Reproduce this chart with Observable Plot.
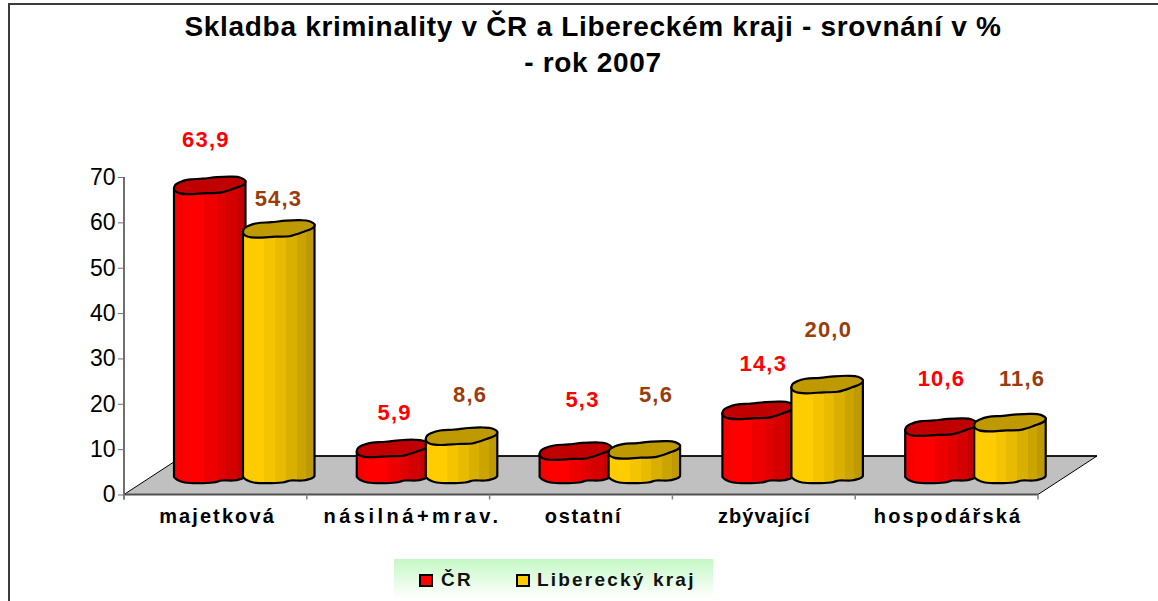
<!DOCTYPE html>
<html><head><meta charset="utf-8">
<script src="https://cdn.jsdelivr.net/npm/d3@7"></script>
<script src="https://cdn.jsdelivr.net/npm/@observablehq/plot@0.6"></script>
<style>
html,body{margin:0;padding:0;background:#fff;overflow:hidden}
#page{position:relative;width:1158px;height:601px;font-family:"Liberation Sans",Arial,sans-serif;overflow:hidden}
#bl{position:absolute;left:8px;top:3px;width:2px;height:598px;background:#3c3c3c}
#bt{position:absolute;left:8px;top:3px;right:0;height:2px;background:#3c3c3c}
#title{position:absolute;left:0;top:0;width:1186px;height:100px;text-align:center;font-weight:bold;font-size:28px;letter-spacing:.7px;line-height:36px;padding-top:9px;box-sizing:border-box;color:#000}
#chart{position:absolute;left:0;top:100px}
#legend{position:absolute;left:394px;top:559px;width:319px;height:39px;background:linear-gradient(#c4f8c4,#ffffff);font-weight:bold;font-size:19px;letter-spacing:2.2px;color:#111}
#legend span{position:absolute;top:11px;line-height:20px;white-space:nowrap}
#legend i{position:absolute;top:15px;width:10px;height:9px;border:2px solid #000}
g[aria-label="text"] text{letter-spacing:1.2px}
</style></head>
<body><div id="page">
<div id="bl"></div><div id="bt"></div>
<div id="title">Skladba kriminality v ČR a Libereckém kraji - srovnání v %<br>- rok 2007</div>
<div id="chart"></div>
<div id="legend">
<i style="left:25px;background:#ff0000"></i><span style="left:47px">ČR</span>
<i style="left:122px;background:#ffcc00"></i><span style="left:143px">Liberecký kraj</span>
</div>
</div>
<script>
const categories = ["majetková","násilná+mrav.","ostatní","zbývající","hospodářská"];
const crValues = [63.9,5.9,5.3,14.3,10.6];
const krajValues = [54.3,8.6,5.6,20.0,11.6];
const yTicks = [0,10,20,30,40,50,60,70];

// hand placement of the data labels (as in the original), relative to category centre / value
const crLabelDx = [-10,-4,1,-1,-5.6];
const crLabelDy = [-65.6,-55,-71.5,-66.6,-68.4];
const krajLabelDx = [62.6,71.5,74.5,64,75];
const krajLabelDy = [-50,-61.5,-75,-74.8,-63.9];
// hand placement and tracking of the category labels
const catLabelDx = [1.6,13.8,2,0,1];
const catLabelTracking = [2.1,3.5,1.7,1,2.2];

const barW = 71.5, baseLift = 18.5;
const topShape = [[0,2],[.02,-1.5],[.08,-4],[.2,-6.5],[.4,-7.5],[.6,-9],[.8,-9.5],[.93,-8.5],[1,-5],[.98,-2],[.85,2],[.65,6.5],[.45,7],[.2,8],[.07,7],[.01,4.5]];
const baseShape = [[0,1],[.05,4],[.15,6.5],[.55,6.5],[.67,4.5],[.83,4.5],[.97,2],[1,0]];

function cylinder(offset, gradId, topFill){
  return function(index, scales, values, dims, ctx){
    const g = d3.select(ctx.document.createElementNS("http://www.w3.org/2000/svg","g"));
    const closed = d3.line().curve(d3.curveCatmullRomClosed.alpha(.5));
    const open = d3.line().curve(d3.curveCatmullRom.alpha(.5));
    for (const i of index){
      const x0 = values.x[i] + offset;
      const yb = values.y1[i] - baseLift, yt = values.y2[i] - baseLift;
      const base = baseShape.map(([u,v])=>[x0+u*barW, yb+v]);
      const d = `M${x0},${yt+2}L` + open(base).slice(1) + `L${x0+barW},${yt-5}Z`;
      g.append("path").attr("d",d).attr("fill",`url(#${gradId})`).attr("stroke","#000").attr("stroke-width",2.2).attr("stroke-linejoin","round");
      g.append("path").attr("d",closed(topShape.map(([u,v])=>[x0+u*barW, yt+v]))).attr("fill",topFill).attr("stroke","#000").attr("stroke-width",2.2);
    }
    return g.node();
  };
}

function floor(index, scales, values, dims, ctx){
  const g = d3.select(ctx.document.createElementNS("http://www.w3.org/2000/svg","g"));
  const y0 = scales.y(0), depthY = y0 - 38.5, xL = dims.marginLeft, xR = dims.width - dims.marginRight;
  const dxD = 59;
  g.append("path").attr("d",`M${xL},${y0}L${xL+dxD},${depthY}L${xR+dxD},${depthY}L${xR},${y0}Z`).attr("fill","#c0c0c0").attr("stroke","#000").attr("stroke-width",1);
  g.append("path").attr("d",`M${xL+dxD},${depthY}L${xR+dxD},${depthY}`).attr("stroke","#000").attr("stroke-width",1.5);
  g.append("path").attr("d",`M${xL},${scales.y(70)}V${y0+5}`).attr("stroke","#707070").attr("stroke-width",2);
  g.append("path").attr("d",`M${xL},${y0}H${xR}`).attr("stroke","#505050").attr("stroke-width",2);
  for (const i of index) g.append("path").attr("d",`M${values.x[i]},${y0}v5`).attr("stroke","#808080").attr("stroke-width",1.5);
  g.append("path").attr("d",`M${xR},${y0}v5`).attr("stroke","#808080").attr("stroke-width",1.5);
  return g.node();
}

const gradients = () => {
  const ns = "http://www.w3.org/2000/svg";
  const defs = document.createElementNS(ns,"defs");
  const mk = (id, cols) => {
    const lg = d3.select(defs).append("linearGradient").attr("id",id);
    cols.forEach(([c,a,b])=>{ lg.append("stop").attr("offset",a).attr("stop-color",c); lg.append("stop").attr("offset",b).attr("stop-color",c); });
  };
  mk("gRed",[["#f60000",0,.12],["#ff0000",.12,.42],["#ee0000",.42,.6],["#e00000",.6,.72],["#d40000",.72,.88],["#c40000",.88,1]]);
  mk("gYel",[["#ffcc00",0,.3],["#f5c400",.3,.45],["#e8ba00",.45,.6],["#dab000",.6,.75],["#cca400",.75,.88],["#bf9900",.88,1]]);
  return defs;
};

const fmt = v => v.toFixed(1).replace(".",",");
const labelMarks = (vals,dxs,dys,color) => vals.map((v,i)=>Plot.text([v],{
  x:()=>categories[i], y:d=>d, text:fmt, dx:dxs[i], dy:dys[i], fill:color, fontSize:22, fontWeight:"bold"
}));

const plot = Plot.plot({
  width:1158, height:455,
  marginTop:77, marginBottom:60.5, marginLeft:124, marginRight:120,
  x:{domain:categories, padding:0, round:false, axis:null},
  y:{domain:[0,70], axis:null},
  style:{background:"transparent", fontFamily:"'Liberation Sans',Arial,sans-serif", overflow:"visible", color:"#000"},
  marks:[
    gradients,
    Plot.barY(categories,{x:d=>d, y1:()=>0, y2:()=>0, render:floor}),
    Plot.axisY({ticks:yTicks, tickSize:6, tickPadding:3, fontSize:23, label:null, stroke:"#707070", fill:"#000", fontWeight:"normal"}),
    Plot.axisX({tickSize:0, tickPadding:14, fontSize:20, fontWeight:"bold", label:null, fill:"#000"}),
    Plot.barY(crValues,{x:(d,i)=>categories[i], y1:()=>0, y2:d=>d, render:cylinder(50,"gRed","#c00000")}),
    Plot.barY(krajValues,{x:(d,i)=>categories[i], y1:()=>0, y2:d=>d, render:cylinder(119,"gYel","#bf9900")}),
    ...labelMarks(crValues,crLabelDx,crLabelDy,"#ff0000"),
    ...labelMarks(krajValues,krajLabelDx,krajLabelDy,"#993d0d")
  ]
});
plot.querySelectorAll('g[aria-label="x-axis tick label"] text').forEach((t,i)=>{
  t.setAttribute("dx",catLabelDx[i]);
  t.style.letterSpacing = catLabelTracking[i]+"px";
});
document.getElementById("chart").appendChild(plot);
</script>
</body></html>
